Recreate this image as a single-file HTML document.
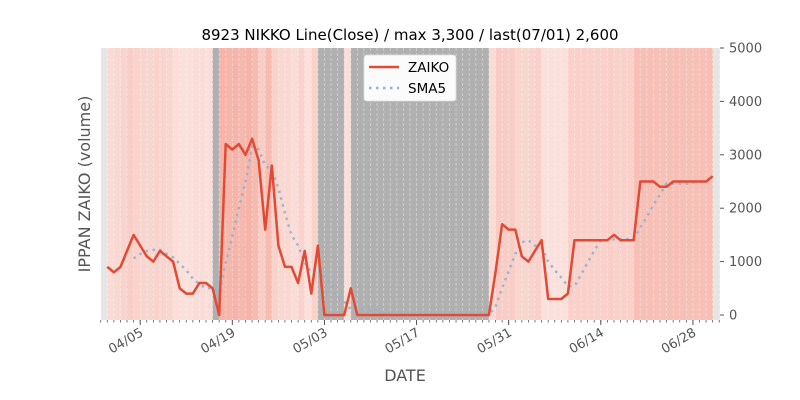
<!DOCTYPE html>
<html><head><meta charset="utf-8"><style>
body{margin:0;background:#fff;}
svg{display:block;font-family:"DejaVu Sans","Liberation Sans",sans-serif;}
</style></head><body>
<svg id="chart" width="800" height="400" xmlns="http://www.w3.org/2000/svg">
<rect x="0" y="0" width="800" height="400" fill="#fff"/>
<text x="410" y="40" text-anchor="middle" font-size="15" fill="#000">8923 NIKKO Line(Close) / max 3,300 / last(07/01) 2,600</text>
<text x="405" y="381" text-anchor="middle" font-size="16" fill="#555">DATE</text>
<text transform="translate(90,184) rotate(-90)" text-anchor="middle" font-size="16" fill="#555">IPPAN ZAIKO (volume)</text>
<g id="plot"></g>
</svg>
<script>
const dayLabels = ["03/31","04/01","04/02","04/03","04/04","04/05","04/06","04/07","04/08","04/09","04/10","04/11","04/12","04/13","04/14","04/15","04/16","04/17","04/18","04/19","04/20","04/21","04/22","04/23","04/24","04/25","04/26","04/27","04/28","04/29","04/30","05/01","05/02","05/03","05/04","05/05","05/06","05/07","05/08","05/09","05/10","05/11","05/12","05/13","05/14","05/15","05/16","05/17","05/18","05/19","05/20","05/21","05/22","05/23","05/24","05/25","05/26","05/27","05/28","05/29","05/30","05/31","06/01","06/02","06/03","06/04","06/05","06/06","06/07","06/08","06/09","06/10","06/11","06/12","06/13","06/14","06/15","06/16","06/17","06/18","06/19","06/20","06/21","06/22","06/23","06/24","06/25","06/26","06/27","06/28","06/29","06/30","07/01"];
const zaiko = [900,800,900,1200,1500,1300,1100,1000,1200,1100,1000,500,400,400,600,600,500,0,3200,3100,3200,3000,3300,2900,1600,2800,1300,900,900,600,1200,400,1300,0,0,0,0,500,0,0,0,0,0,0,0,0,0,0,0,0,0,0,0,0,0,0,0,0,0,800,1700,1600,1600,1100,1000,1200,1400,300,300,300,400,1400,1400,1400,1400,1400,1400,1500,1400,1400,1400,2500,2500,2500,2400,2400,2500,2500,2500,2500,2500,2500,2600];
const yTicks = [0,1000,2000,3000,4000,5000];
const xTickLabels = ["04/05","04/19","05/03","05/17","05/31","06/14","06/28"];
const sma5 = zaiko.map((v,i)=> i<4 ? null : (zaiko[i]+zaiko[i-1]+zaiko[i-2]+zaiko[i-3]+zaiko[i-4])/5);

const NS="http://www.w3.org/2000/svg";
const L=101, R=720, T=48, B=320;
const x0=107.3, dx=6.58;
const X = i => x0 + i*dx;
const Y = v => 315 - v*0.0534;
const maxV = Math.max(...zaiko);
const g = document.getElementById('plot');
function mk(tag, attrs, parent){const e=document.createElementNS(NS,tag);for(const k in attrs)e.setAttribute(k,attrs[k]);(parent||g).appendChild(e);return e;}

let bg = mk('rect',{x:L,y:T,width:R-L,height:B-T,fill:'#e5e5e5'});



for(let i=1;i<zaiko.length;i++){
  const v=zaiko[i];
  let fill;
  if(v===0) fill='#b0b0b0';
  else { const a=0.15+0.3*v/maxV; fill=`rgb(${Math.round(232*a+255*(1-a))},${Math.round(87*a+255*(1-a))},${Math.round(63*a+255*(1-a))})`; }
  const r = mk('rect',{x:X(i-1),y:T,width:dx+0.3,height:B-T,fill:fill});
  
  
}
for(let i=-1;i<=zaiko.length;i++){
  const gl = mk('line',{x1:X(i),x2:X(i),y1:T,y2:B,stroke:'#fff','stroke-opacity':0.45,'stroke-width':0.8,'stroke-dasharray':'3,2'});
  
  
  if(X(i)>=L-1 && X(i)<=R){
    const t = mk('line',{x1:X(i),x2:X(i),y1:B,y2:B+2.5,stroke:'#555','stroke-width':0.8});
    
    
  }
}
xTickLabels.forEach(lbl=>{
  const i = dayLabels.indexOf(lbl);
  const x = X(i);
  const t = mk('line',{x1:x,x2:x,y1:B,y2:B+5,stroke:'#555','stroke-width':1});
  
  
  const tx = mk('text',{transform:`translate(${x+4},${B+15}) rotate(-30)`,'text-anchor':'end','font-size':13,fill:'#555'});
  tx.textContent=lbl;
  
  
});
yTicks.forEach(v=>{
  const y=Y(v);
  const t = mk('line',{x1:R,x2:R+4,y1:y,y2:y,stroke:'#555','stroke-width':1});
  
  
  const tx = mk('text',{x:R+9,y:y+4.5,'font-size':13,fill:'#555'});
  tx.textContent=v;
  
  
});

const smaPts = sma5.map((v,i)=>v===null?null:`${X(i).toFixed(1)},${Y(v).toFixed(1)}`).filter(p=>p).join(' ');
const sl = mk('polyline',{points:smaPts,fill:'none',stroke:'#8fb3d0','stroke-width':2.5,'stroke-dasharray':'2.5,4.5','stroke-opacity':0.9});


const zPts = zaiko.map((v,i)=>`${X(i).toFixed(1)},${Y(v).toFixed(1)}`).join(' ');
const zl = mk('polyline',{points:zPts,fill:'none',stroke:'#e24a33','stroke-width':2.5,'stroke-linejoin':'round'});



const lg = mk('g',{});


mk('rect',{x:364,y:55,width:92,height:46,rx:3,fill:'#fff','fill-opacity':0.95,stroke:'#ddd','stroke-width':0.8},lg);
const e1 = mk('line',{x1:369,x2:399,y1:67,y2:67,stroke:'#e24a33','stroke-width':2.5},lg);


const t1 = mk('text',{x:408,y:72,'font-size':13.5,fill:'#000'},lg); t1.textContent='ZAIKO';


const e2 = mk('line',{x1:369,x2:399,y1:88,y2:88,stroke:'#8fb3d0','stroke-width':2.5,'stroke-dasharray':'2.5,4.5'},lg);


const t2 = mk('text',{x:408,y:93,'font-size':13.5,fill:'#000'},lg); t2.textContent='SMA5';


</script>
</body></html>
